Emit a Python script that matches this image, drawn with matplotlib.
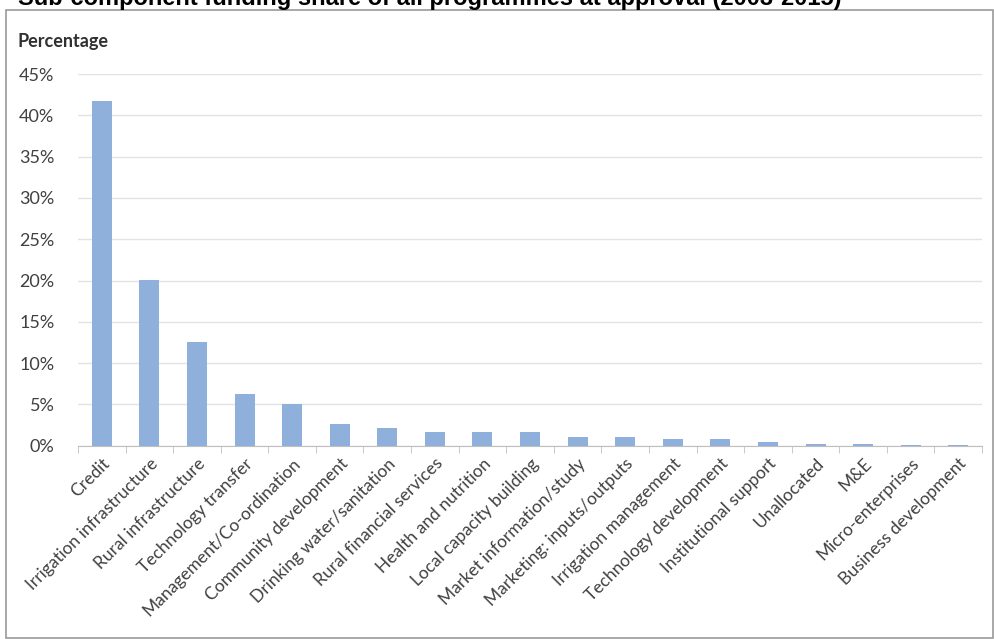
import matplotlib
matplotlib.use('Agg')
import matplotlib.pyplot as plt
from matplotlib.patches import Rectangle
from matplotlib.ticker import FuncFormatter, MultipleLocator
import numpy as np

# Data
categories = ['Credit', 'Irrigation infrastructure', 'Rural infrastructure', 'Technology transfer',
              'Management/Co-ordination', 'Community development', 'Drinking water/sanitation',
              'Rural financial services', 'Health and nutrition', 'Local capacity building',
              'Market information/study', 'Marketing: inputs/outputs', 'Irrigation management',
              'Technology development', 'Institutional support', 'Unallocated', 'M&E',
              'Micro-enterprises', 'Business development']
shares = [41.7, 20.1, 12.5, 6.3, 5.0, 2.6, 2.1, 1.7, 1.6, 1.6,
          1.0, 1.0, 0.8, 0.8, 0.4, 0.2, 0.2, 0.1, 0.1]

plt.rcParams['font.family'] = ['Lato', 'DejaVu Sans']

fig = plt.figure(figsize=(9.95, 6.39), dpi=100)
ax = fig.add_axes([0.0784, 0.3025, 0.9086, 0.5815])

x = np.arange(len(categories))
ax.bar(x, shares, width=0.42, color='#8eb0da', zorder=3)

ax.set_xlim(-0.5, len(categories) - 0.5)
ax.set_ylim(0, 45)
ax.yaxis.set_major_locator(MultipleLocator(5))
ax.yaxis.set_major_formatter(FuncFormatter(lambda v, p: f'{v:.0f}%'))
ax.grid(axis='y', color='#e3e3e3', linewidth=1.0, zorder=0)

# category labels at centres, tick marks at boundaries
ax.set_xticks(x)
ax.set_xticklabels(categories, rotation=45, ha='right', rotation_mode='anchor',
                   fontsize=12.5, color='#404040')
ax.tick_params(axis='x', length=0, pad=7)
ax.set_xticks(np.arange(-0.5, len(categories), 1), minor=True)
ax.tick_params(axis='x', which='minor', length=5, color='#bfbfbf', direction='out')
ax.tick_params(axis='y', length=0, labelsize=13, labelcolor='#404040', pad=17)

for s in ['top', 'right', 'left']:
    ax.spines[s].set_visible(False)
ax.spines['bottom'].set_color('#bfbfbf')

# y-axis caption and chart frame
fig.text(18 / 995, 1 - 42 / 639, 'Percentage', fontsize=13, fontweight='bold',
         color='#303030', va='center', ha='left')
fig.patches.append(Rectangle((6 / 995, 0.002), 987 / 995, 1 - 10 / 639 - 0.002,
                             transform=fig.transFigure, fill=False,
                             edgecolor='#9a9a9a', linewidth=1.2))

# title, partly cut off at the top edge as in the source
fig.text(18 / 995, 1 + 2 / 639, 'Sub-component funding share of all programmes at approval (2003-2015)',
         family='Liberation Sans', fontsize=17, fontweight='bold', color='black',
         va='center', ha='left')

fig.savefig('out.png', dpi=100)
